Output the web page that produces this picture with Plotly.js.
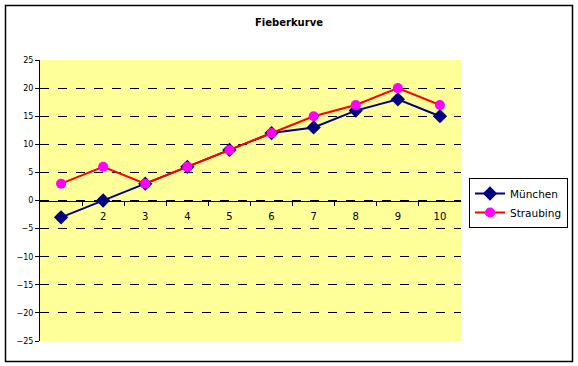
<!DOCTYPE html>
<html><head><meta charset="utf-8">
<script src="https://cdn.plot.ly/plotly-3.0.1.min.js"></script>
<style>html,body{margin:0;padding:0;background:#fff}#c{width:578px;height:366px}</style>
</head><body><div id="c"></div>
<script>
const categories = [1,2,3,4,5,6,7,8,9,10];
const muenchen = [-3,0,3,6,9,12,13,16,18,15];
const straubing = [3,6,3,6,9,12,15,17,20,17];
const yTicks = [-25,-20,-15,-10,-5,0,5,10,15,20,25];

const W=578,H=366,L=40,R=117,T=60,B=25;
const pw=W-L-R, ph=H-T-B;
const px=v=>(v-L)/pw, py=v=>(H-B-v)/ph;

const traces=[
 {x:categories,y:muenchen,name:'München',mode:'lines+markers',
  line:{color:'#000080',width:2},marker:{symbol:'diamond',size:11,color:'#000080'}},
 {x:categories,y:straubing,name:'Straubing',mode:'lines+markers',
  line:{color:'#FF0000',width:2},marker:{symbol:'circle',size:10,color:'#FF00FF'}}
];
const layout={
 width:W,height:H,margin:{l:L,r:R,t:T,b:B,autoexpand:false},
 paper_bgcolor:'#fff',plot_bgcolor:'#FFFF99',
 font:{family:'Verdana, DejaVu Sans, sans-serif',color:'#000'},
 title:{text:'<b>Fieberkurve</b>',font:{size:10,family:'Verdana, DejaVu Sans, sans-serif'},x:0.5,xref:'container',y:1-22/H,yanchor:'middle',xanchor:'center'},
 showlegend:true,
 legend:{x:px(469),y:py(178),xanchor:'left',yanchor:'top',bordercolor:'#000',borderwidth:1,
   font:{size:10.5,family:'Verdana, DejaVu Sans, sans-serif'},tracegroupgap:0,itemwidth:30},
 xaxis:{range:[0.5,10.5],anchor:'free',position:0.5,showline:true,linecolor:'#000',linewidth:1,
   tickvals:categories,ticktext:categories.map(String),ticks:'',showgrid:false,zeroline:false,
   tickfont:{size:10},layer:'below traces',ticklabelstandoff:6,
   minor:{tickvals:[1.5,2.5,3.5,4.5,5.5,6.5,7.5,8.5,9.5],ticks:'outside',ticklen:4,tickcolor:'#000',showgrid:false}},
 yaxis:{range:[-25,25],tickvals:yTicks,ticks:'outside',ticklen:4,tickcolor:'#000',showline:true,linecolor:'#000',
   linewidth:1,gridcolor:'#000',griddash:'dash',gridwidth:1,zeroline:false,tickfont:{size:8}},
 shapes:[{type:'rect',xref:'paper',yref:'paper',x0:px(5.5),x1:px(572.5),y0:py(361.5),y1:py(5.5),
   line:{color:'#000',width:1.5},layer:'below'}]
};
Plotly.newPlot('c',traces,layout,{staticPlot:true});
</script></body></html>
